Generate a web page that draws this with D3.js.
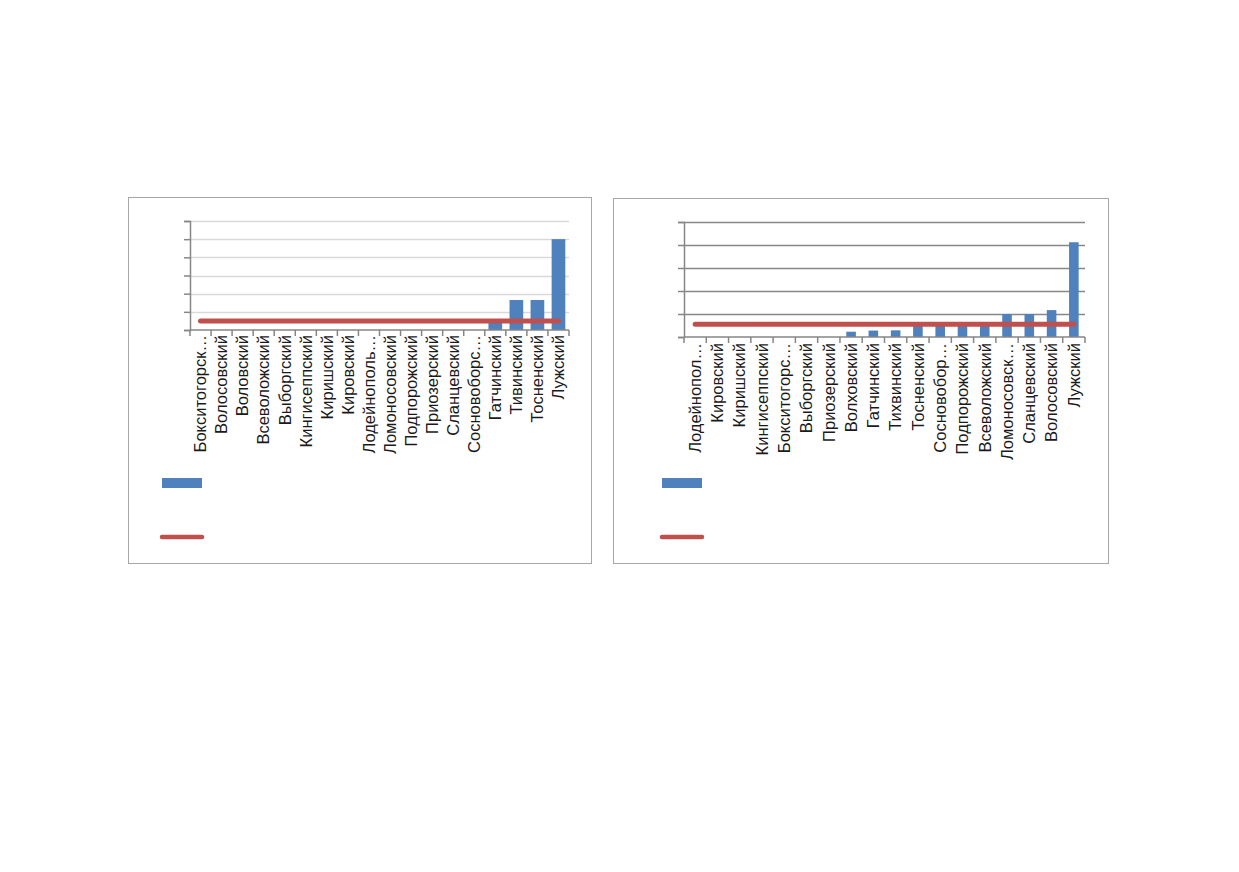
<!DOCTYPE html>
<html>
<head>
<meta charset="utf-8">
<script src="https://cdn.jsdelivr.net/npm/d3@7"></script>
<style>
  body { margin: 0; background: #fff; }
  svg { display: block; }
  .label { font-family: "Liberation Sans", Arial, sans-serif; font-size: 16.5px; fill: #1a1a1a; }
</style>
</head>
<body>
<svg class="page"></svg>
<script>
const width = 1239;
const height = 872;

// left chart data
const leftCategories = [
  "Бокситогорск…", "Волосовский", "Воловский", "Всеволожский", "Выборгский",
  "Кингисеппский", "Киришский", "Кировский", "Лодейнополь…", "Ломоносовский",
  "Подпорожский", "Приозерский", "Сланцевский", "Сосновоборс…", "Гатчинский",
  "Тивинский", "Тосненский", "Лужский"
];
const leftValues = [0, 0, 0, 0, 0, 0, 0, 0, 0, 0, 0, 0, 0, 0, 0.45, 1.65, 1.65, 5];
const leftAverage = 0.5;
const leftTicks = [0, 1, 2, 3, 4, 5, 6];

// right chart data
const rightCategories = [
  "Лодейнопол…", "Кировский", "Киришский", "Кингисеппский", "Бокситогорс…",
  "Выборгский", "Приозерский", "Волховский", "Гатчинский", "Тихвинский",
  "Тосненский", "Сосновобор…", "Подпорожский", "Всеволожский", "Ломоносовск…",
  "Сланцевский", "Волосовский", "Лужский"
];
const rightValues = [0, 0, 0, 0, 0, 0, 0, 0.23, 0.28, 0.29, 0.5, 0.53, 0.58, 0.6, 1, 1, 1.17, 4.12];
const rightAverage = 0.55;
const rightTicks = [0, 1, 2, 3, 4, 5];

const barColor = "#4f81bd";
const lineColor = "#c0504d";
const axisColor = "#868686";

const svg = d3.select(".page").attr("width", width).attr("height", height);

function drawChart(opts) {
  const g = svg.append("g");

  // outer frame
  g.append("rect")
    .attr("x", opts.frame.x + 0.5)
    .attr("y", opts.frame.y + 0.5)
    .attr("width", opts.frame.w)
    .attr("height", opts.frame.h)
    .attr("fill", "#fff")
    .attr("stroke", "#a6a6a6")
    .attr("stroke-width", 1);

  const x = d3
    .scaleBand()
    .domain(opts.categories)
    .range([opts.left, opts.right])
    .paddingInner(opts.gap)
    .paddingOuter(opts.gap / 2);

  const y = d3
    .scaleLinear()
    .domain([0, d3.max(opts.ticks)])
    .range([opts.bottom, opts.top]);

  // gridlines
  g.selectAll(".grid")
    .data(opts.ticks.filter((t) => t > 0))
    .enter()
    .append("line")
    .attr("x1", opts.left)
    .attr("x2", opts.right)
    .attr("y1", (d) => Math.round(y(d)) + 0.5)
    .attr("y2", (d) => Math.round(y(d)) + 0.5)
    .attr("stroke", opts.gridColor)
    .attr("stroke-width", opts.gridWidth);

  // y axis
  const yAxis = g
    .append("g")
    .attr("transform", `translate(${opts.left},0)`)
    .call(d3.axisLeft(y).tickValues(opts.ticks).tickSize(6).tickFormat(""));
  yAxis.select(".domain").attr("stroke", axisColor).attr("stroke-width", 1.5);
  yAxis.selectAll(".tick line").attr("stroke", axisColor).attr("stroke-width", 1.5);

  // bars
  g.selectAll(".bar")
    .data(opts.values)
    .enter()
    .append("rect")
    .attr("x", (d, i) => x(opts.categories[i]))
    .attr("y", (d) => y(d))
    .attr("width", x.bandwidth())
    .attr("height", (d) => y(0) - y(d))
    .attr("fill", barColor);

  // x axis with ticks at category boundaries
  const step = x.step();
  g.append("line")
    .attr("x1", opts.left)
    .attr("x2", opts.right)
    .attr("y1", opts.bottom)
    .attr("y2", opts.bottom)
    .attr("stroke", axisColor)
    .attr("stroke-width", 1.5);
  g.selectAll(".xtick")
    .data(d3.range(opts.categories.length + 1))
    .enter()
    .append("line")
    .attr("x1", (i) => opts.left + i * step)
    .attr("x2", (i) => opts.left + i * step)
    .attr("y1", opts.bottom)
    .attr("y2", opts.bottom + 6)
    .attr("stroke", axisColor)
    .attr("stroke-width", 1.5);

  // average line
  const line = d3
    .line()
    .x((d) => x(d) + x.bandwidth() / 2)
    .y(() => y(opts.average));
  g.append("path")
    .datum(opts.categories)
    .attr("d", line)
    .attr("fill", "none")
    .attr("stroke", lineColor)
    .attr("stroke-width", 5)
    .attr("stroke-linecap", "round");

  // category labels
  g.selectAll(".label")
    .data(opts.categories)
    .enter()
    .append("text")
    .attr("class", "label")
    .attr("transform", (d) => `translate(${x(d) + x.bandwidth() / 2},${opts.bottom + opts.labelGap}) rotate(-90)`)
    .attr("dy", "0.35em")
    .attr("text-anchor", "end")
    .text((d) => d);

  // legend
  g.append("rect")
    .attr("x", opts.legendX + 2)
    .attr("y", 478)
    .attr("width", 40)
    .attr("height", 10)
    .attr("fill", barColor);
  g.append("line")
    .attr("x1", opts.legendX + 2)
    .attr("x2", opts.legendX + 42)
    .attr("y1", 537)
    .attr("y2", 537)
    .attr("stroke", lineColor)
    .attr("stroke-width", 4.5)
    .attr("stroke-linecap", "round");
}

drawChart({
  categories: leftCategories,
  values: leftValues,
  average: leftAverage,
  ticks: leftTicks,
  frame: { x: 128, y: 197, w: 463, h: 366 },
  left: 190,
  right: 569,
  top: 221,
  bottom: 330,
  gap: 0.35,
  gridColor: "#d9d9d9",
  gridWidth: 1.5,
  labelGap: 5,
  legendX: 160
});

drawChart({
  categories: rightCategories,
  values: rightValues,
  average: rightAverage,
  ticks: rightTicks,
  frame: { x: 613, y: 198, w: 495, h: 365 },
  left: 684,
  right: 1085,
  top: 222,
  bottom: 337,
  gap: 0.57,
  gridColor: "#878787",
  gridWidth: 1.5,
  labelGap: 6,
  legendX: 660
});
</script>
</body>
</html>
